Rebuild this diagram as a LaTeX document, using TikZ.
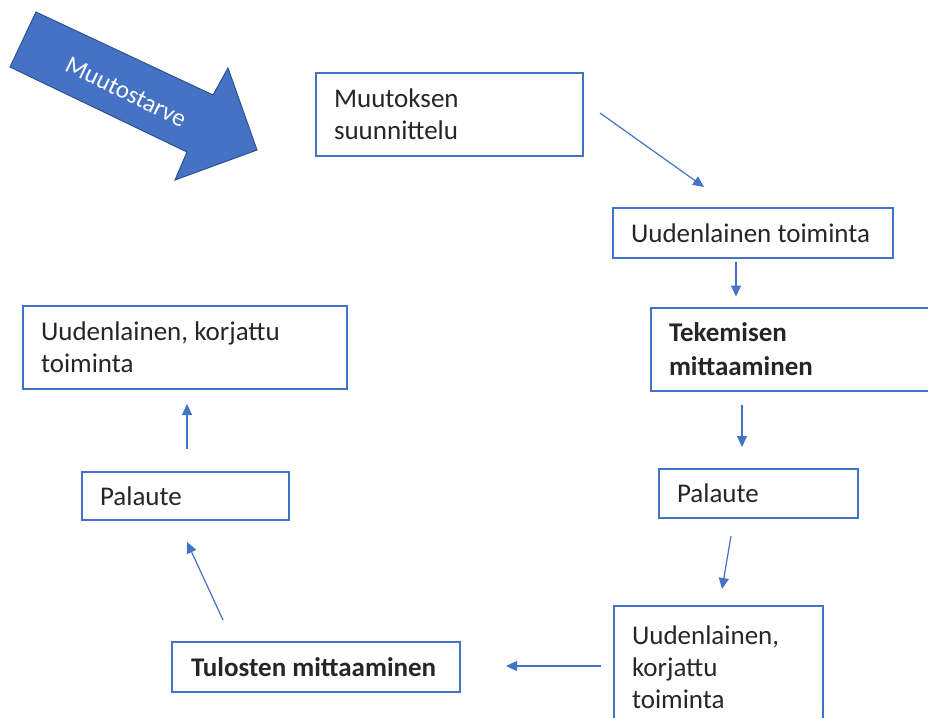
\documentclass[tikz,border=0pt]{standalone}
\usepackage{fontspec}
\setmainfont{Carlito}
\usetikzlibrary{arrows.meta,calc}
\definecolor{boxblue}{HTML}{4472C4}
\definecolor{darkblue}{HTML}{2F528F}
\tikzset{
  box/.style={draw=boxblue, line width=2pt, rectangle, inner xsep=18pt, inner ysep=0pt, outer sep=0pt, align=flush left, font=\fontsize{27}{32}\selectfont, text=black!85},
  conn/.style={draw=boxblue, line width=1.2pt, -{Triangle[length=11pt,width=10pt]}},
}
\begin{document}
\begin{tikzpicture}[x=1pt,y=-1pt]
\useasboundingbox (0,0) rectangle (928,717);
% big arrow
\fill[boxblue, draw=darkblue, line width=1pt] (36,12) -- (213,95) -- (228,68) -- (257,150) -- (175,180) -- (187,152) -- (10,67) -- cycle;
\node[text=white, font=\fontsize{25}{30}\selectfont, rotate=-26] (mt) at (126,92) {Muutostarve};
% boxes
\node[box, minimum width=267pt, minimum height=83pt, text width=231pt] (m) at (449.5,114.5) {Muutoksen\\suunnittelu};
\node[box, minimum width=280pt, minimum height=50pt, text width=244pt] (u) at (753,233) {Uudenlainen toiminta};
\node[box, minimum width=309pt, minimum height=83pt, text width=273pt, font=\fontsize{27}{34}\selectfont\bfseries] (t) at (805.5,349) {Tekemisen\\mittaaminen};
\node[box, minimum width=199pt, minimum height=49pt, text width=163pt] (p1) at (758.5,493.5) {Palaute};
\node[box, minimum width=209pt, minimum height=122pt, text width=173pt] (k2) at (718.5,667) {Uudenlainen,\\korjattu\\toiminta};
\node[box, minimum width=288pt, minimum height=50pt, text width=250pt, inner xsep=19pt, font=\fontsize{27}{32}\selectfont\bfseries] (tm) at (316,667) {Tulosten mittaaminen};
\node[box, minimum width=207pt, minimum height=48pt, text width=171pt] (p2) at (185.5,496) {Palaute};
\node[box, minimum width=324pt, minimum height=83pt, text width=288pt] (k1) at (185,347.5) {Uudenlainen, korjattu\\toiminta};
% connectors
\draw[conn] ($(m.east)+(17,-1.5)$) -- ($(u.north)+(-49,-21)$);
\draw[conn] ($(u.south)+(-17,4)$) -- ($(t.north)+(-69.5,-11)$);
\draw[conn] ($(t.south)+(-63.5,14)$) -- ($(p1.north)+(-16.5,-22)$);
\draw[conn] ($(p1.south)+(-27.5,18)$) -- ($(k2.north)+(3.5,-17)$);
\draw[conn] ($(k2.west)+(-13,-1)$) -- ($(tm.east)+(46,-1)$);
\draw[conn] ($(tm.north)+(-93,-22)$) -- ($(p2.south)+(1.5,22)$);
\draw[conn] ($(p2.north)+(1.5,-23)$) -- ($(k1.south)+(2,15)$);
\end{tikzpicture}
\end{document}
